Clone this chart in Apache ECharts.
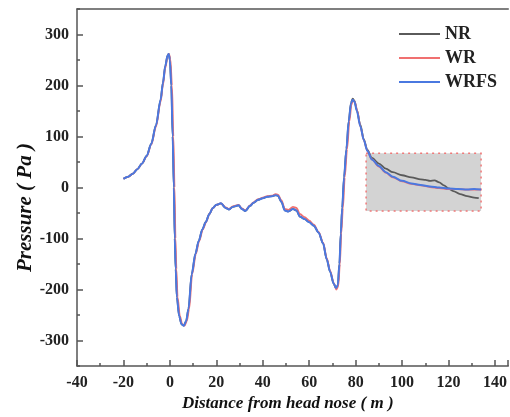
<!DOCTYPE html>
<html><head><meta charset="utf-8">
<script src="https://cdn.jsdelivr.net/npm/echarts@6/dist/echarts.min.js"></script>
<style>html,body{margin:0;padding:0;background:#fff}#c{width:510px;height:417px}</style>
</head><body><div id="c"></div>
<script>
const seriesNames = ['NR', 'WR', 'WRFS'];
const xTicks = [-40, -20, 0, 20, 40, 60, 80, 100, 120, 140];
const yTicks = [-300, -200, -100, 0, 100, 200, 300];
const zoomBox = [[84.5, 67], [134, -46]];

const WRFS = [[-20,17],[-18,21],[-16,27],[-14,36],[-12,47],[-10,62],[-8,86],[-6,122],[-4,172],[-3,205],[-2,238],[-1,259],[-0.5,262],[0,250],[0.6,200],[1.2,100],[1.7,0],[2.1,-100],[2.5,-160],[3,-215],[4,-252],[5,-268],[6,-271],[7,-262],[8,-238],[9.4,-170],[11,-130],[12.4,-105],[14,-82],[15.4,-68],[17,-52],[18.5,-40],[20,-34],[22,-31],[24,-40],[25.5,-43],[27,-38],[29.6,-35],[31,-42],[32.5,-46],[34.5,-36],[36,-30],[38,-24],[40,-21],[42,-18],[44,-17],[45.5,-15],[46.5,-16],[48,-28],[49.5,-45],[51,-47],[53,-42],[54.5,-45],[56,-57],[58,-62],[60,-68],[62,-75],[64,-88],[66,-110],[67.5,-140],[69,-165],[70.5,-188],[71.5,-197],[72.3,-192],[73,-150],[73.6,-90],[74.2,-40],[75,20],[76,75],[77,130],[78,165],[78.7,172],[79.5,168],[80.5,150],[82,120],[83.5,93],[85,72],[87,55],[90,42],[93,30],[96,21],[100,13],[104,8],[108,5],[112,2],[116,0],[120,-2],[124,-3],[128,-4],[131,-3],[134,-4]];

const WR = [[-20,17],[-18,21],[-16,27],[-14,36],[-12,47],[-10,61],[-8,84],[-6,119],[-4,168],[-3,201],[-2,234],[-1,257],[-0.4,262],[0.2,252],[0.9,200],[1.5,100],[2.0,0],[2.4,-100],[2.8,-160],[3.3,-215],[4.3,-252],[5.3,-268],[6.3,-271],[7.3,-262],[8.3,-238],[9.6,-170],[11.2,-130],[12.6,-105],[14.2,-82],[15.6,-68],[17,-52],[18.5,-40],[20,-34],[22,-31],[24,-39],[25.5,-42],[27,-37],[29.6,-34],[31,-41],[32.5,-45],[34.5,-35],[36,-29],[38,-23],[40,-20],[42,-17],[44,-16],[45.5,-13],[46.5,-14],[48,-25],[49.5,-42],[51,-44],[53,-38],[54.5,-40],[56,-52],[58,-58],[60,-65],[62,-73],[64,-87],[66,-108],[67.5,-138],[69,-163],[70.5,-187],[71.7,-200],[72.5,-194],[73.2,-150],[73.8,-90],[74.5,-40],[75.3,20],[76.3,75],[77.3,130],[78.2,163],[78.9,171],[79.7,167],[80.7,150],[82,120],[83.5,93],[85,72],[87,55],[90,41],[93,29],[96,20],[100,12],[104,7],[108,4],[112,1],[116,-1],[120,-3],[124,-3],[128,-4],[131,-4],[134,-4]];

const NR = [[-20,17],[-18,21],[-16,27],[-14,36],[-12,47],[-10,62],[-8,86],[-6,122],[-4,172],[-3,205],[-2,238],[-1,259],[-0.5,262],[0,250],[0.6,200],[1.2,100],[1.7,0],[2.1,-100],[2.5,-160],[3,-215],[4,-252],[5,-268],[6,-271],[7,-262],[8,-238],[9.4,-170],[11,-130],[12.4,-105],[14,-82],[15.4,-68],[17,-52],[18.5,-40],[20,-34],[22,-31],[24,-40],[25.5,-43],[27,-38],[29.6,-35],[31,-42],[32.5,-46],[34.5,-36],[36,-30],[38,-24],[40,-21],[42,-18],[44,-17],[45.5,-15],[46.5,-16],[48,-28],[49.5,-45],[51,-47],[53,-42],[54.5,-45],[56,-57],[58,-62],[60,-68],[62,-75],[64,-88],[66,-110],[67.5,-140],[69,-165],[70.5,-188],[71.5,-197],[72.3,-192],[73,-150],[73.6,-90],[74.2,-40],[75,20],[76,75],[77,130],[78,166],[78.7,174],[79.5,170],[80.5,152],[82,123],[83.5,95],[85,74],[87,58],[90,47],[93,37],[96,30],[100,24],[104,20],[108,16],[110,15],[112,13],[114,14],[116,10],[118,4],[120,-2],[122,-7],[125,-13],[128,-17],[131,-20],[133,-21]];

const serif = '"Liberation Serif","Times New Roman",serif';
const axisCol = '#555';
const lbl = { fontFamily: serif, fontWeight: 'bold', fontSize: 16, color: '#222' };
const chart = echarts.init(document.getElementById('c'));
chart.setOption({
  animation: false,
  grid: { left: 77, right: 0, top: 9, bottom: 51, show: false, containLabel: false },
  legend: {
    data: seriesNames, orient: 'vertical', left: 394, top: 20, itemWidth: 41, itemHeight: 2, itemGap: 6,
    icon: 'rect', textStyle: { fontFamily: serif, fontWeight: 'bold', fontSize: 18, color: '#222' }
  },
  xAxis: [{
    type: 'value', min: -40, max: 145.7, interval: 20,
    axisLine: { onZero: false, lineStyle: { color: axisCol, width: 1.5 } },
    axisTick: { inside: true, length: 6, lineStyle: { color: axisCol, width: 1.5 } },
    minorTick: { show: true, splitNumber: 2, length: 3, lineStyle: { color: axisCol, width: 1.5 } },
    splitLine: { show: false },
    axisLabel: Object.assign({ margin: 9, showMaxLabel: false, formatter: v => xTicks.includes(v) ? String(v) : '' }, lbl)
  }, {
    type: 'value', position: 'top', min: -40, max: 145.7, interval: 20,
    axisLine: { onZero: false, lineStyle: { color: axisCol, width: 1.5 } },
    axisTick: { show: false }, axisLabel: { show: false }, splitLine: { show: false }
  }],
  yAxis: [{
    type: 'value', min: -350, max: 350, interval: 50,
    axisLine: { onZero: false, lineStyle: { color: axisCol, width: 1.5 } },
    axisTick: { inside: true, length: 3, lineStyle: { color: axisCol, width: 1.5 } },
    splitLine: { show: false },
    axisLabel: Object.assign({ margin: 8, formatter: v => yTicks.includes(v) ? String(v) : '' }, lbl)
  }, {
    type: 'value', position: 'left', min: -350, max: 350,
    axisLine: { show: false, onZero: false },
    axisTick: { show: true, inside: true, length: 6, customValues: yTicks, lineStyle: { color: axisCol, width: 1.5 } },
    axisLabel: { show: false }, splitLine: { show: false }
  }],
  graphic: [
    { type: 'text', left: 182, top: 395, style: { text: 'Distance from head nose ( m )', font: 'italic bold 17px ' + serif, fill: '#111' } },
    { type: 'text', rotation: Math.PI / 2, x: 15, y: 272, style: { text: 'Pressure ( Pa )', font: 'italic bold 21px ' + serif, fill: '#111' } }
  ],
  series: [
    { type: 'line', name: 'box', data: [], z: 1, silent: true,
      markArea: { silent: true, itemStyle: { color: '#d3d3d3', borderColor: '#f07878', borderWidth: 1.5, borderType: [2, 4] },
        data: [[{ coord: zoomBox[0] }, { coord: zoomBox[1] }]] } },
    { type: 'line', name: 'NR', data: NR, symbol: 'none', smooth: 0.3, smoothMonotone: 'x', z: 3, lineStyle: { color: '#5a5a5a', width: 1.8 }, itemStyle: { color: '#5a5a5a' } },
    { type: 'line', name: 'WR', data: WR, symbol: 'none', smooth: 0.3, smoothMonotone: 'x', z: 4, lineStyle: { color: '#f07070', width: 1.8 }, itemStyle: { color: '#f07070' } },
    { type: 'line', name: 'WRFS', data: WRFS, symbol: 'none', smooth: 0.3, smoothMonotone: 'x', z: 5, lineStyle: { color: '#4a78e0', width: 2 }, itemStyle: { color: '#4a78e0' } }
  ]
});
</script></body></html>
